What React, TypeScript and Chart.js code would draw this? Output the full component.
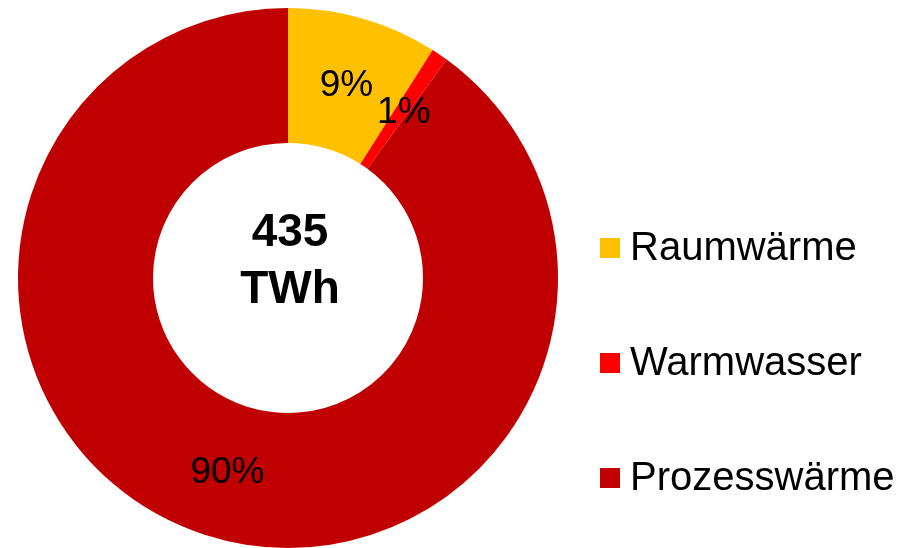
import React, { useEffect, useRef } from "react";
import { Chart, registerables } from "chart.js";

Chart.register(...registerables);

// Wärmebedarf nach Anwendung (Anteile in %)
const categories = ["Raumwärme", "Warmwasser", "Prozesswärme"];
const shares = [9, 1, 90];
const colors = ["#FFC000", "#FF0000", "#C00000"];
const totalLines = ["435", "TWh"];

const FONT = "'Liberation Sans', Arial, sans-serif";

// Prozentwerte in der Mitte jedes Rings
const sliceLabels = {
  id: "sliceLabels",
  afterDatasetsDraw(chart: any) {
    const { ctx } = chart;
    const meta = chart.getDatasetMeta(0);
    const values = chart.data.datasets[0].data as number[];
    ctx.save();
    ctx.font = `37px ${FONT}`;
    ctx.fillStyle = "#000";
    ctx.textAlign = "center";
    ctx.textBaseline = "middle";
    meta.data.forEach((arc: any, i: number) => {
      const p = arc.getCenterPoint();
      ctx.fillText(`${values[i]}%`, p.x + 2, p.y + 2);
    });
    ctx.restore();
  },
};

// Gesamtsumme im Loch des Rings
const centerTotal = {
  id: "centerTotal",
  afterDraw(chart: any) {
    const { ctx } = chart;
    const arc = chart.getDatasetMeta(0).data[0];
    if (!arc) return;
    ctx.save();
    ctx.font = `bold 46px ${FONT}`;
    ctx.fillStyle = "#000";
    ctx.textAlign = "center";
    ctx.textBaseline = "middle";
    ctx.fillText(totalLines[0], arc.x + 2, arc.y - 45);
    ctx.fillText(totalLines[1], arc.x + 2, arc.y + 12);
    ctx.restore();
  },
};

// Legende rechts neben dem Ring
const sideLegend = {
  id: "sideLegend",
  afterDraw(chart: any) {
    const { ctx } = chart;
    const labels = chart.data.labels as string[];
    const bg = chart.data.datasets[0].backgroundColor as string[];
    const x0 = chart.chartArea.right + 42;
    const yStart = 248;
    const step = 115;
    ctx.save();
    ctx.font = `40px ${FONT}`;
    ctx.textAlign = "left";
    ctx.textBaseline = "middle";
    labels.forEach((lab, i) => {
      const y = yStart + i * step;
      ctx.fillStyle = bg[i];
      ctx.fillRect(x0, y - 10, 20, 20);
      ctx.fillStyle = "#000";
      ctx.fillText(lab, x0 + 30, y + 1);
    });
    ctx.restore();
  },
};

export default function App() {
  const ref = useRef<HTMLCanvasElement | null>(null);

  useEffect(() => {
    if (!ref.current) return;
    const chart = new Chart(ref.current, {
      type: "doughnut",
      data: {
        labels: categories,
        datasets: [
          {
            data: shares,
            backgroundColor: colors,
            borderWidth: 0,
            hoverOffset: 0,
            offset: 0,
            spacing: 0,
          },
        ],
      },
      options: {
        animation: false,
        responsive: false,
        cutout: "50%",
        layout: { padding: { left: 18, right: 348, top: 8, bottom: 0 } },
        plugins: {
          legend: { display: false },
          tooltip: { enabled: false },
        },
        events: [],
      },
      plugins: [sliceLabels, centerTotal, sideLegend],
    });
    return () => chart.destroy();
  }, []);

  return (
    <div style={{ position: "absolute", left: 0, top: 0, width: 906, height: 548, background: "#fff" }}>
      <canvas ref={ref} width={906} height={548} style={{ display: "block" }} />
    </div>
  );
}
